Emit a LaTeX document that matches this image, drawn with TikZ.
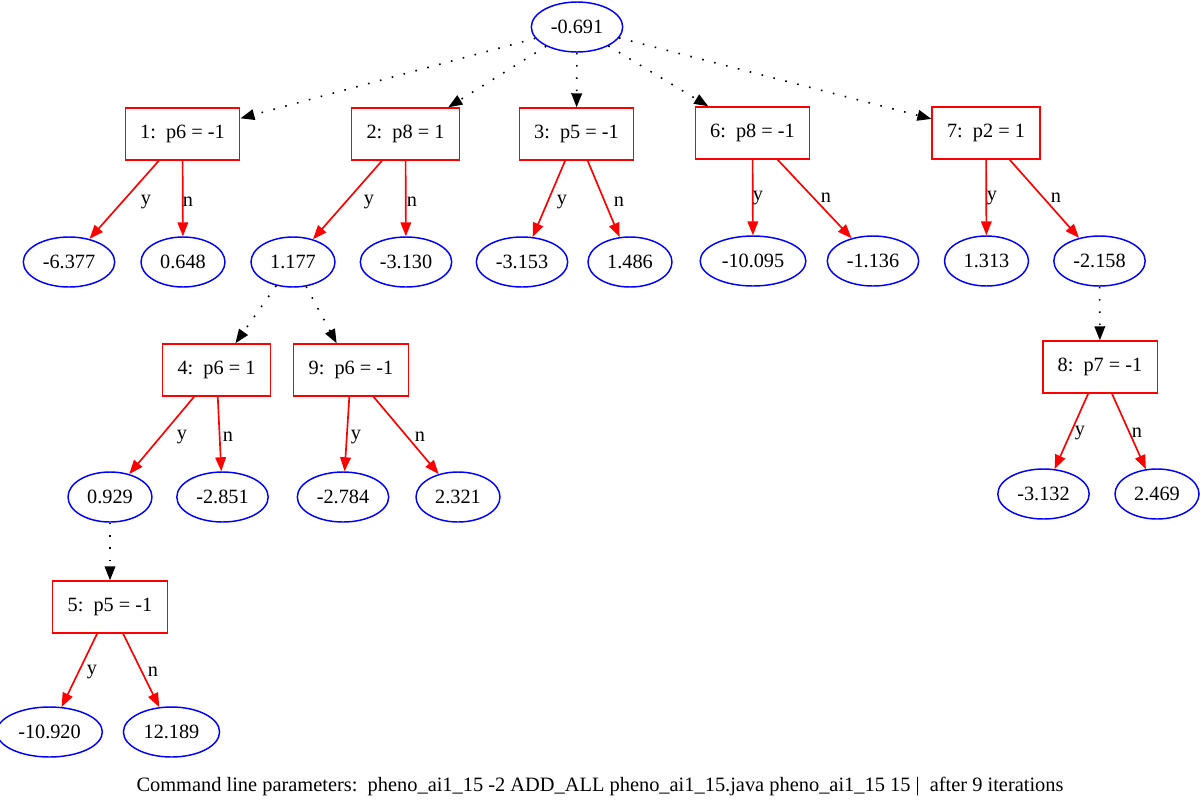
\documentclass[tikz,border=0pt]{standalone}
\usepackage{fontspec}
\setmainfont{Liberation Serif}
\usetikzlibrary{arrows.meta,shapes.geometric}
\tikzset{
  leaf/.style={ellipse, draw=blue, line width=1.1pt, inner xsep=4.6pt, inner ysep=2pt,
    minimum height=37.5pt, minimum width=63pt, font=\fontsize{15.2pt}{17pt}\selectfont},
  test/.style={rectangle, draw=red, line width=1.1pt, inner xsep=11.2pt, inner ysep=2pt,
    minimum height=39pt, font=\fontsize{15.2pt}{17pt}\selectfont},
  redge/.style={draw=red, line width=1.25pt, -{Triangle[length=10.5pt,width=8pt]}, red},
  dedge/.style={draw=black, line width=1.2pt, dash pattern=on 1.2pt off 8pt,
    -{Triangle[length=10.5pt,width=8pt]}},
  lbl/.style={inner sep=0pt, font=\fontsize{15.2pt}{17pt}\selectfont},
}
\begin{document}
\begin{tikzpicture}[x=0.75pt,y=-0.75pt]
\useasboundingbox (0,0) rectangle (1200,800);
% root
\node[leaf] (r) at (577,27) {-0.691};
% level 1 tests
\node[test] (t1) at (182.5,134) {1:~\ p6 = -1};
\node[test] (t2) at (405.5,134) {2:~\ p8 = 1};
\node[test] (t3) at (576.5,134) {3:~\ p5 = -1};
\node[test] (t6) at (752.5,133) {6:~\ p8 = -1};
\node[test] (t7) at (986,133) {7:~\ p2 = 1};
% level 2 leaves
\node[leaf] (a1) at (69,262) {-6.377};
\node[leaf] (a2) at (183,262) {0.648};
\node[leaf] (a3) at (293,262) {1.177};
\node[leaf] (a4) at (406,262) {-3.130};
\node[leaf] (a5) at (522,262) {-3.153};
\node[leaf] (a6) at (630,262) {1.486};
\node[leaf] (a7) at (753,261) {-10.095};
\node[leaf] (a8) at (873,261) {-1.136};
\node[leaf] (a9) at (986.5,261) {1.313};
\node[leaf] (a10) at (1099.5,261) {-2.158};
% level 3 tests
\node[test] (t4) at (216.5,370) {4:~\ p6 = 1};
\node[test] (t9) at (351,370) {9:~\ p6 = -1};
\node[test] (t8) at (1100,367) {8:~\ p7 = -1};
% level 4 leaves
\node[leaf] (b1) at (110,497) {0.929};
\node[leaf] (b2) at (222.5,497) {-2.851};
\node[leaf] (b3) at (343,497) {-2.784};
\node[leaf] (b4) at (458,497) {2.321};
\node[leaf] (b5) at (1043.5,494) {-3.132};
\node[leaf] (b6) at (1157,494) {2.469};
% level 5
\node[test] (t5) at (110,607) {5:~\ p5 = -1};
\node[leaf] (c1) at (49.5,732) {-10.920};
\node[leaf] (c2) at (171.5,732) {12.189};
% dotted edges
\draw[dedge] (r) -- (t1);
\draw[dedge] (r) -- (t2);
\draw[dedge] (r) -- (t3);
\draw[dedge] (r) -- (t6);
\draw[dedge] (r) -- (t7);
\draw[dedge] (a3) -- (t4);
\draw[dedge] (a3) -- (t9);
\draw[dedge] (a10) -- (t8);
\draw[dedge] (b1) -- (t5);
% red edges
\draw[redge] (t1) -- (a1);
\draw[redge] (t1) -- (a2);
\draw[redge] (t2) -- (a3);
\draw[redge] (t2) -- (a4);
\draw[redge] (t3) -- (a5);
\draw[redge] (t3) -- (a6);
\draw[redge] (t6) -- (a7);
\draw[redge] (t6) -- (a8);
\draw[redge] (t7) -- (a9);
\draw[redge] (t7) -- (a10);
\draw[redge] (t4) -- (b1);
\draw[redge] (t4) -- (b2);
\draw[redge] (t9) -- (b3);
\draw[redge] (t9) -- (b4);
\draw[redge] (t8) -- (b5);
\draw[redge] (t8) -- (b6);
\draw[redge] (t5) -- (c1);
\draw[redge] (t5) -- (c2);
% edge labels
\node[lbl] (l1y) at (146,202) {y};
\node[lbl] (l1n) at (188,202) {n};
\node[lbl] (l2y) at (369,202) {y};
\node[lbl] (l2n) at (412,202) {n};
\node[lbl] (l3y) at (562,202) {y};
\node[lbl] (l3n) at (619,202) {n};
\node[lbl] (l6y) at (758,198) {y};
\node[lbl] (l6n) at (826,198) {n};
\node[lbl] (l7y) at (992,198) {y};
\node[lbl] (l7n) at (1056,198) {n};
\node[lbl] (l4y) at (182,437) {y};
\node[lbl] (l4n) at (228,437) {n};
\node[lbl] (l9y) at (356,437) {y};
\node[lbl] (l9n) at (420,437) {n};
\node[lbl] (l8y) at (1080,433) {y};
\node[lbl] (l8n) at (1137,433) {n};
\node[lbl] (l5y) at (92,672) {y};
\node[lbl] (l5n) at (153,672) {n};
% caption
\node[lbl, font=\fontsize{15.3pt}{17pt}\selectfont] (cap) at (600,787) {Command line parameters:~\ pheno\_ai1\_15 -2 ADD\_ALL pheno\_ai1\_15.java pheno\_ai1\_15 15 |~\ after 9 iterations};
\end{tikzpicture}
\end{document}
